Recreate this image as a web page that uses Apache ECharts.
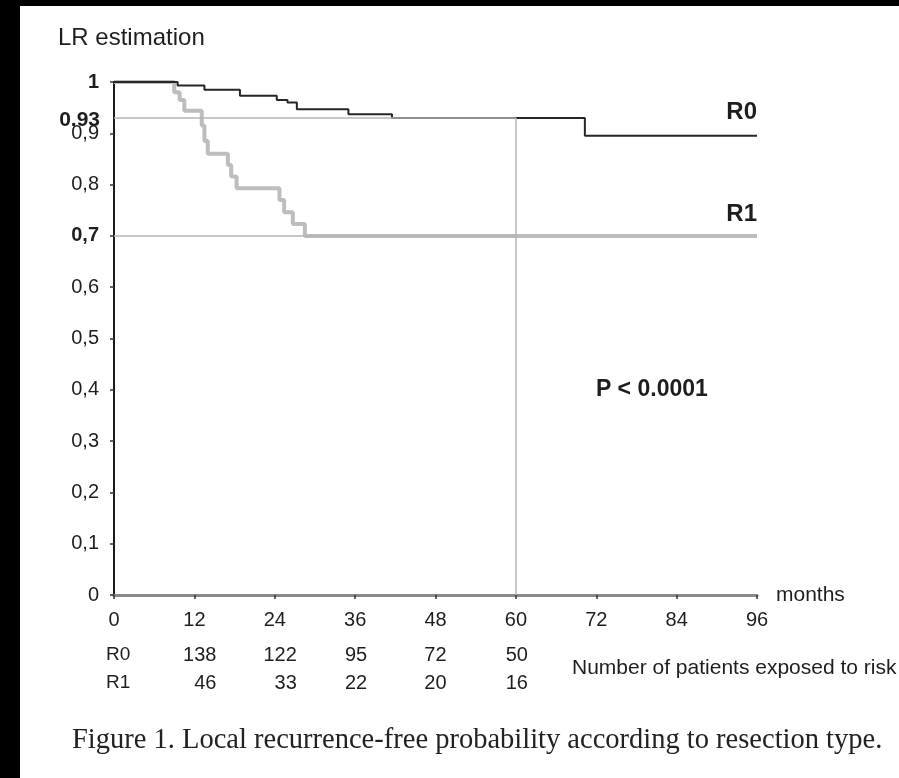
<!DOCTYPE html>
<html>
<head>
<meta charset="utf-8">
<script src="https://cdn.jsdelivr.net/npm/echarts@6/dist/echarts.min.js"></script>
<style>
  html, body { margin: 0; padding: 0; background: #000; }
  #chart { width: 899px; height: 778px; }
</style>
</head>
<body>
<div id="chart"></div>
<script>
// Kaplan-Meier steps: month of each event and survival after it
const r0Months = [0, 9.5, 13.5, 18.8, 24.3, 25.9, 27.3, 35, 41.5, 70.3, 96];
const r0Surv   = [1, 0.993, 0.985, 0.973, 0.965, 0.960, 0.947, 0.937, 0.93, 0.895, 0.895];
const r1Months = [0, 9.0, 9.8, 10.5, 13.1, 13.5, 14.0, 17.0, 17.5, 18.3, 24.7, 25.4, 26.7, 28.5, 96];
const r1Surv   = [1, 0.98, 0.965, 0.944, 0.915, 0.885, 0.86, 0.838, 0.816, 0.793, 0.77, 0.746, 0.723, 0.70, 0.70];

// Patients at risk
const riskMonths = [12, 24, 36, 48, 60];
const riskR0 = [138, 122, 95, 72, 50];
const riskR1 = [46, 33, 22, 20, 16];

// Reference levels read at 60 months
const refMonth = 60;
const refR0 = 0.93;
const refR1 = 0.70;

const xTicks = [0, 12, 24, 36, 48, 60, 72, 84, 96];
const pValueText = 'P < 0.0001';
const yTitle = 'LR estimation';
const xTitle = 'months';
const riskTitle = 'Number of patients exposed to risk';
const caption = 'Figure 1. Local recurrence-free probability according to resection type.';

const SANS = '"Liberation Sans", Arial, sans-serif';
const SERIF = '"Liberation Serif", "Times New Roman", serif';
const INK = '#1e1e1e';

const chart = echarts.init(document.getElementById('chart'), null, { renderer: 'canvas' });

function pairs(xs, ys) { return xs.map((x, i) => [x, ys[i]]); }

const option = {
  backgroundColor: '#ffffff',
  animation: false,
  grid: { left: 114, right: 142, top: 82, bottom: 183, containLabel: false },
  xAxis: {
    type: 'value', min: xTicks[0], max: xTicks[xTicks.length - 1], interval: 12,
    name: xTitle, nameLocation: 'end', nameGap: 19,
    nameTextStyle: { fontFamily: SANS, fontSize: 21, color: INK, align: 'left', verticalAlign: 'middle', padding: [6, 0, 0, 0] },
    axisLine: { lineStyle: { color: '#8a8a8a', width: 3 } },
    axisTick: { show: true, length: 4, lineStyle: { color: '#333', width: 1.5 } },
    axisLabel: { fontFamily: SANS, fontSize: 20, color: INK, margin: 15 },
    splitLine: { show: false }
  },
  yAxis: {
    type: 'value', min: 0, max: 1, interval: 0.1,
    axisLine: { show: true, lineStyle: { color: '#1a1a1a', width: 2 } },
    axisTick: { show: true, length: 4, lineStyle: { color: '#333', width: 1.5 } },
    axisLabel: {
      fontFamily: SANS, fontSize: 20, color: INK, margin: 15,
      formatter: function (v) {
        if (Math.abs(v) < 1e-9) return '0';
        if (Math.abs(v - 1) < 1e-9) return '{b|1}';
        const s = v.toFixed(1).replace('.', ',');
        if (Math.abs(v - refR1) < 1e-9) return '{b|' + s + '}';
        return s;
      },
      rich: { b: { fontFamily: SANS, fontSize: 20, fontWeight: 'bold', color: INK } }
    },
    splitLine: { show: false }
  },
  series: [
    {
      name: 'R1', type: 'line', step: 'end', symbol: 'none', z: 3,
      data: pairs(r1Months, r1Surv),
      lineStyle: { color: '#bdbdbd', width: 4 }
    },
    {
      name: 'R0', type: 'line', step: 'end', symbol: 'none', z: 4,
      data: pairs(r0Months, r0Surv),
      lineStyle: { color: '#262626', width: 2 }
    },
    {
      name: 'ref', type: 'line', data: [], z: 2,
      markLine: {
        silent: true, symbol: 'none', label: { show: false },
        lineStyle: { color: '#b4b4b4', width: 1.5, type: 'solid' },
        data: [
          [{ coord: [0, refR0] }, { coord: [refMonth, refR0] }],
          [{ coord: [0, refR1] }, { coord: [refMonth, refR1] }],
          [{ coord: [refMonth, 0] }, { coord: [refMonth, refR0] }]
        ]
      }
    }
  ]
};
chart.setOption(option);

// Annotations positioned through the chart's own scales
const px = (x, y) => chart.convertToPixel({ gridIndex: 0 }, [x, y]);
const text = (x, y, str, style) => ({
  type: 'text', x: x, y: y, z: 10,
  style: Object.assign({ text: str, fontFamily: SANS, fontSize: 20, fill: INK, align: 'left', verticalAlign: 'middle' }, style || {})
});

const origin = px(0, 0);
const end = px(xTicks[xTicks.length - 1], 0);
const graphics = [
  { type: 'rect', shape: { x: 0, y: 0, width: 20, height: 778 }, style: { fill: '#000' }, z: 20 },
  { type: 'rect', shape: { x: 0, y: 0, width: 899, height: 6 }, style: { fill: '#000' }, z: 20 },
  text(58, 38, yTitle, { fontSize: 24 }),
  text(origin[0] - 14, px(0, refR0)[1] + 2, refR0.toFixed(2), { align: 'right', fontWeight: 'bold', fontSize: 21 })
];

// Curve labels above the right end of each curve
const r0End = px(r0Months[r0Months.length - 1], r0Surv[r0Surv.length - 1]);
const r1End = px(r1Months[r1Months.length - 1], r1Surv[r1Surv.length - 1]);
graphics.push(text(r0End[0], r0End[1] - 23, 'R0', { align: 'right', fontWeight: 'bold', fontSize: 24 }));
graphics.push(text(r1End[0], r1End[1] - 22, 'R1', { align: 'right', fontWeight: 'bold', fontSize: 24 }));

// p-value
const pPos = px(80.3, 0.40);
graphics.push(text(pPos[0], pPos[1], pValueText, { align: 'center', fontWeight: 'bold', fontSize: 23 }));

// Risk table under the axis
const rowR0 = origin[1] + 60;
const rowR1 = origin[1] + 88;
const colShift = [22, 22, 12, 11, 12];
graphics.push(text(origin[0] - 8, rowR0, 'R0', { fontSize: 19 }));
graphics.push(text(origin[0] - 8, rowR1, 'R1', { fontSize: 19 }));
riskMonths.forEach((m, i) => {
  const cx = px(m, 0)[0] + colShift[i];
  graphics.push(text(cx, rowR0, String(riskR0[i]), { align: 'right', fontSize: 20 }));
  graphics.push(text(cx, rowR1, String(riskR1[i]), { align: 'right', fontSize: 20 }));
});
graphics.push(text(end[0] - 185, (rowR0 + rowR1) / 2 - 1, riskTitle, { fontSize: 21 }));

// Caption
graphics.push(text(72, 741, caption, { fontFamily: SERIF, fontSize: 28.5, fill: '#222' }));

chart.setOption({ graphic: graphics });
</script>
</body>
</html>
